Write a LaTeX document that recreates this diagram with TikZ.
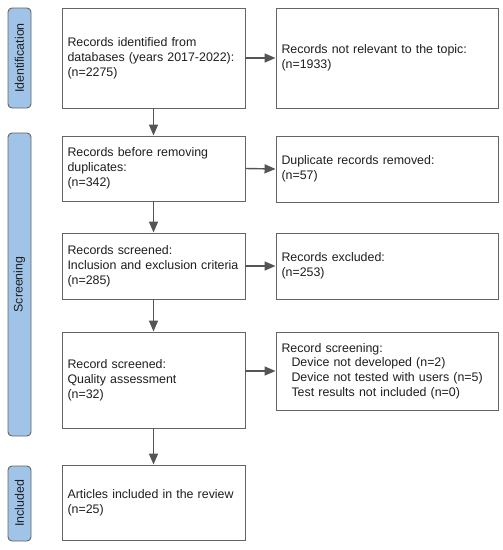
\documentclass[tikz,border=0pt]{standalone}
\usepackage{fontspec}
\setmainfont{Liberation Sans}
\usetikzlibrary{arrows.meta}
\definecolor{barblue}{RGB}{160,196,232}
\definecolor{bordergray}{RGB}{100,100,100}
\definecolor{arrowgray}{RGB}{85,85,85}
\definecolor{txt}{RGB}{30,30,30}
\begin{document}
\begin{tikzpicture}[x=1pt,y=-1pt,
  every node/.style={font=\fontsize{12.4}{14.8}\selectfont, text=txt},
  box/.style={draw=bordergray, line width=0.9pt, rectangle, fill=white,
    inner xsep=5.5pt, inner ysep=0pt, align=left, anchor=center},
  lbox/.style={box, minimum width=183pt, text width=172pt},
  rbox/.style={box, minimum width=222pt, text width=211pt},
  phase/.style={draw=bordergray, line width=0.9pt, fill=barblue, rounded corners=4pt,
    rectangle, minimum height=23pt, rotate=90, anchor=center, inner sep=0pt},
  arr/.style={draw=arrowgray, line width=1.4pt, -{Triangle[length=11pt,width=9pt]}}
]
\useasboundingbox (0,0) rectangle (503,550);

% phase bars
\node[phase, minimum width=100pt] (pid) at (19.5,58) {Identification};
\node[phase, minimum width=303pt] (psc) at (19.5,284.5) {Screening};
\node[phase, minimum width=75pt] (pin) at (19.5,503.5) {Included};

% left column
\node[lbox, minimum height=100pt] (b1) at (153.5,58) {Records identified from\\databases (years 2017-2022):\\(n=2275)};
\node[lbox, minimum height=65pt] (b2) at (153.5,168.5) {Records before removing\\duplicates:\\(n=342)};
\node[lbox, minimum height=66pt] (b3) at (153.5,266) {Records screened:\\Inclusion and exclusion criteria\\(n=285)};
\node[lbox, minimum height=96pt] (b4) at (153.5,380) {Record screened:\\Quality assessment\\(n=32)};
\node[lbox, minimum height=75pt] (b5) at (153.5,502.5) {Articles included in the review\\(n=25)};

% right column
\node[rbox, minimum height=100pt] (r1) at (387,58) {Records not relevant to the topic:\\(n=1933)};
\node[rbox, minimum height=66pt] (r2) at (387,169) {Duplicate records removed:\\(n=57)};
\node[rbox, minimum height=66pt] (r3) at (387,266) {Records excluded:\\(n=253)};
\node[rbox, minimum height=78pt] (r4) at (387,371) {Record screening:\\\hspace*{10pt}Device not developed (n=2)\\\hspace*{10pt}Device not tested with users (n=5)\\\hspace*{10pt}Test results not included (n=0)};

% arrows
\draw[arr] (b1.south) -- (b2.north);
\draw[arr] (b2.south) -- (b3.north);
\draw[arr] (b3.south) -- (b4.north);
\draw[arr] (b4.south) -- (b5.north);

\draw[arr] (b1.east) -- (r1.west);
\draw[arr] (b2.east) -- (r2.west);
\draw[arr] (b3.east) -- (r3.west);
\draw[arr] (b4.east |- r4.west) -- (r4.west);
\end{tikzpicture}
\end{document}
